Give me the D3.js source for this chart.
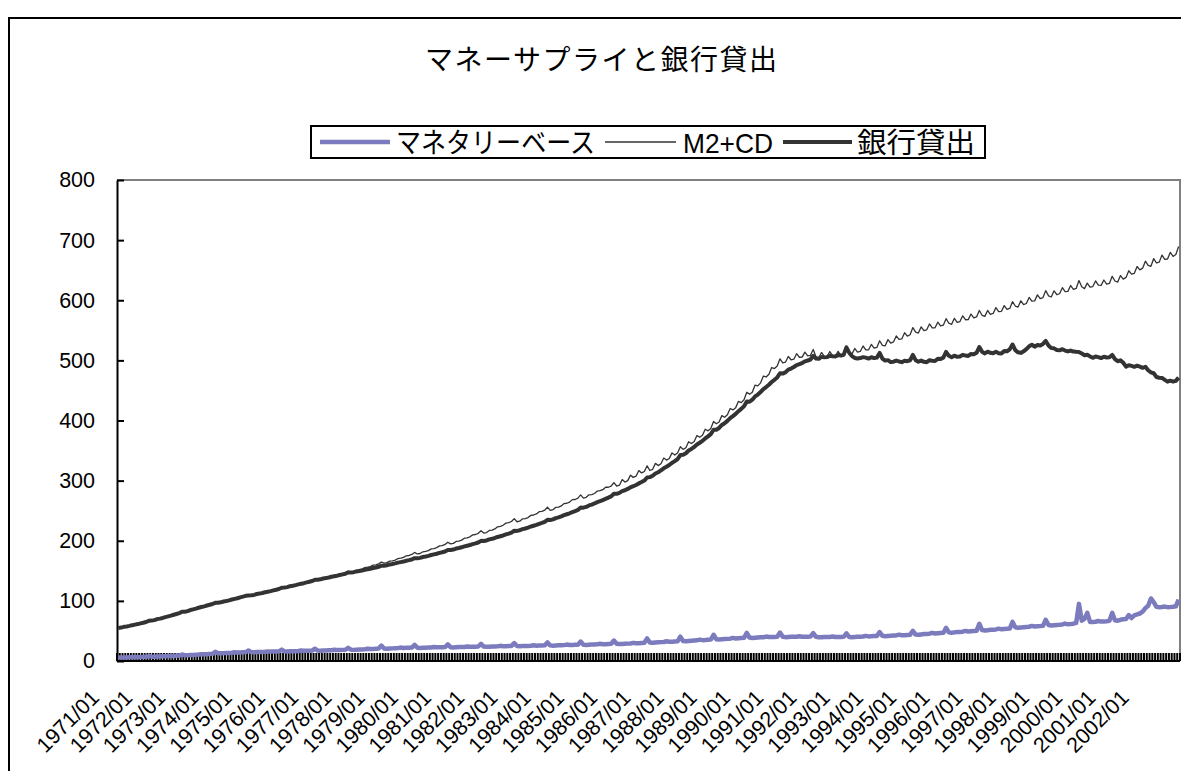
<!DOCTYPE html>
<html>
<head>
<meta charset="utf-8">
<script src="https://cdn.jsdelivr.net/npm/d3@7"></script>
<style>
  html, body { margin: 0; padding: 0; background: #fff; }
  svg { display: block; }
  text { font-family: "Liberation Sans", "Noto Sans CJK JP", sans-serif; fill: #000; }
</style>
</head>
<body>
<svg id="chart" width="1181" height="771"></svg>
<script>
// Monthly series, 1971/01 - 2002/12 (one row per year, Jan..Dec)
const yearStart = 1971;
const yearCount = 32;

const seriesNames = ["マネタリーベース", "M2+CD", "銀行貸出"];
const yTicks = [0, 100, 200, 300, 400, 500, 600, 700, 800];

const monetaryBase = [
  6.0, 5.8, 5.9, 6.0, 6.1, 6.2, 6.5, 6.4, 6.5, 6.7, 6.9, 8.2,
  7.2, 7.1, 7.3, 7.5, 7.7, 7.9, 8.3, 8.2, 8.4, 8.7, 9.0, 10.8,
  9.6, 9.5, 9.8, 10.1, 10.4, 10.7, 11.3, 11.1, 11.4, 11.7, 12.0, 15.2,
  13.0, 12.8, 13.1, 13.3, 13.5, 13.8, 14.4, 14.1, 14.3, 14.5, 14.7, 17.4,
  14.8, 14.5, 14.8, 15.0, 15.1, 15.3, 15.9, 15.6, 15.7, 15.9, 16.1, 19.0,
  16.1, 15.8, 16.1, 16.3, 16.4, 16.6, 17.3, 16.9, 17.0, 17.2, 17.4, 20.5,
  17.4, 17.1, 17.4, 17.6, 17.7, 17.9, 18.6, 18.2, 18.3, 18.5, 18.7, 21.9,
  18.8, 18.5, 18.8, 19.1, 19.3, 19.6, 20.4, 19.9, 20.1, 20.4, 20.7, 25.6,
  20.8, 20.4, 20.7, 21.0, 21.2, 21.5, 22.3, 21.8, 22.0, 22.2, 22.4, 26.8,
  22.2, 21.8, 22.0, 22.2, 22.3, 22.5, 23.2, 22.7, 22.8, 23.0, 23.2, 27.5,
  23.0, 22.6, 22.9, 23.1, 23.2, 23.4, 24.2, 23.6, 23.7, 23.9, 24.1, 28.6,
  24.0, 23.6, 23.9, 24.1, 24.2, 24.4, 25.2, 24.6, 24.7, 24.9, 25.1, 29.8,
  25.0, 24.5, 24.8, 25.0, 25.1, 25.3, 26.1, 25.5, 25.6, 25.8, 26.0, 30.9,
  26.0, 25.5, 25.8, 26.0, 26.2, 26.4, 27.3, 26.6, 26.7, 26.9, 27.1, 32.4,
  27.2, 26.7, 27.0, 27.3, 27.5, 27.7, 28.6, 27.9, 28.0, 28.2, 28.5, 34.0,
  28.6, 28.1, 28.4, 28.7, 28.9, 29.2, 30.2, 29.4, 29.6, 29.9, 30.3, 37.5,
  30.8, 30.3, 30.7, 31.1, 31.4, 31.7, 32.8, 32.0, 32.2, 32.5, 32.9, 40.4,
  33.4, 32.9, 33.3, 33.7, 34.0, 34.4, 35.6, 34.7, 34.9, 35.3, 35.7, 43.6,
  36.2, 35.6, 36.0, 36.5, 36.8, 37.2, 38.4, 37.5, 37.8, 38.2, 38.6, 46.8,
  39.0, 38.4, 38.8, 39.2, 39.4, 39.6, 40.6, 39.8, 39.9, 40.1, 40.3, 47.2,
  40.4, 39.7, 40.0, 40.2, 40.2, 40.3, 41.2, 40.4, 40.3, 40.4, 40.6, 46.4,
  40.2, 39.5, 39.7, 39.9, 39.8, 39.9, 40.8, 39.9, 39.9, 40.0, 40.2, 46.0,
  40.0, 39.5, 39.9, 40.3, 40.4, 40.7, 41.8, 40.9, 41.1, 41.4, 41.7, 48.0,
  41.9, 41.3, 41.7, 42.1, 42.3, 42.6, 43.8, 42.8, 43.0, 43.3, 43.6, 50.2,
  44.0, 43.5, 44.2, 44.8, 45.1, 45.5, 46.8, 45.8, 46.1, 46.5, 46.9, 55.0,
  47.6, 47.0, 47.6, 48.1, 48.4, 48.8, 50.1, 49.1, 49.4, 49.8, 50.2, 62.0,
  51.4, 50.8, 51.3, 51.8, 52.1, 52.5, 53.8, 52.8, 53.1, 53.5, 54.0, 65.0,
  56.0, 55.3, 55.8, 56.3, 56.6, 57.0, 58.4, 57.3, 57.6, 58.0, 58.5, 68.5,
  59.8, 59.0, 59.5, 60.0, 60.3, 60.8, 62.2, 61.0, 61.4, 62.0, 63.5, 95.0,
  67.0, 70.0, 80.0, 65.0, 64.8, 65.3, 66.5, 65.5, 65.8, 66.2, 66.8, 80.0,
  67.8, 67.0, 68.5, 69.5, 69.8, 76.5, 71.5, 76.0, 77.5, 79.0, 82.0, 88.0,
  92.0, 104.0, 98.0, 90.0, 89.5, 89.8, 90.5, 89.6, 89.8, 90.2, 91.0, 102.0
];

const m2cd = [
  55.4, 55.8, 57.3, 57.6, 58.6, 60.1, 60.6, 61.6, 63.1, 63.8, 65.0, 67.4,
  67.4, 68.3, 70.2, 70.7, 71.9, 73.6, 74.5, 75.6, 77.5, 78.5, 79.9, 82.5,
  82.3, 83.2, 85.4, 86.1, 87.3, 89.3, 90.0, 91.2, 93.0, 93.8, 95.1, 97.6,
  97.1, 97.9, 99.8, 100.1, 101.2, 103.1, 103.6, 104.7, 106.7, 107.3, 108.7, 109.9,
  109.5, 110.2, 112.2, 112.4, 113.5, 115.3, 115.6, 116.7, 118.4, 118.8, 120.2, 122.9,
  122.5, 123.2, 125.4, 125.5, 126.6, 128.6, 128.8, 129.9, 131.9, 132.3, 133.6, 136.3,
  135.6, 136.3, 138.4, 138.6, 139.6, 141.6, 142.0, 142.9, 145.0, 145.4, 146.6, 149.4,
  148.2, 148.9, 150.9, 151.8, 153.0, 155.2, 156.0, 157.0, 159.4, 160.0, 161.6, 164.6,
  162.8, 163.6, 166.0, 166.5, 167.8, 170.4, 171.0, 172.3, 175.0, 175.5, 177.2, 180.6,
  178.0, 178.8, 181.6, 182.2, 183.6, 186.4, 187.0, 188.5, 191.4, 192.0, 193.8, 197.6,
  194.8, 195.6, 198.8, 199.4, 201.0, 204.2, 204.9, 206.6, 209.8, 210.4, 212.4, 216.6,
  212.8, 213.6, 217.2, 217.8, 219.6, 223.2, 224.0, 225.8, 229.4, 230.0, 232.0, 236.8,
  231.6, 232.6, 236.4, 236.8, 238.6, 242.2, 242.8, 244.6, 248.4, 248.8, 250.8, 256.0,
  250.6, 251.6, 255.6, 256.0, 258.0, 261.8, 262.4, 264.4, 268.4, 268.6, 270.8, 276.2,
  271.0, 272.2, 276.4, 276.6, 278.6, 282.6, 283.2, 285.0, 289.0, 289.0, 291.0, 296.6,
  291.0, 292.4, 301.7, 297.6, 300.0, 309.1, 305.4, 307.4, 316.7, 312.8, 315.2, 324.6,
  316.8, 318.8, 328.7, 325.0, 328.0, 337.5, 334.2, 336.8, 346.1, 342.6, 345.8, 356.4,
  352.0, 354.6, 364.7, 361.8, 365.2, 375.1, 372.2, 375.4, 385.5, 382.8, 386.8, 398.4,
  394.6, 397.4, 408.1, 405.4, 409.6, 419.9, 417.6, 421.4, 431.9, 429.8, 434.6, 447.0,
  443.6, 447.0, 458.9, 457.6, 462.6, 473.9, 472.4, 477.0, 488.1, 486.4, 490.8, 502.6,
  496.0, 497.2, 506.5, 501.0, 502.0, 511.1, 505.2, 505.4, 513.7, 507.6, 508.4, 518.2,
  506.0, 504.4, 513.1, 506.6, 506.4, 514.7, 507.8, 507.0, 515.1, 508.4, 509.0, 519.8,
  512.4, 510.4, 519.9, 513.8, 514.8, 523.9, 517.6, 517.6, 526.5, 520.4, 521.6, 532.6,
  525.0, 524.2, 534.5, 528.8, 530.6, 540.7, 534.8, 535.6, 545.9, 540.4, 542.6, 554.6,
  547.0, 545.4, 555.7, 549.4, 550.8, 560.5, 554.0, 554.2, 563.5, 557.2, 558.6, 569.4,
  561.8, 560.0, 569.9, 563.4, 564.6, 574.1, 567.6, 567.8, 577.1, 570.8, 572.2, 583.0,
  575.0, 573.2, 583.1, 576.6, 578.0, 587.7, 581.2, 581.6, 591.1, 584.8, 586.4, 597.6,
  590.4, 588.6, 599.1, 592.8, 594.6, 604.7, 598.4, 599.0, 608.9, 602.6, 604.4, 616.0,
  607.4, 605.4, 615.7, 609.2, 610.8, 620.9, 614.4, 614.8, 624.5, 618.0, 619.6, 632.8,
  622.4, 619.4, 628.5, 621.8, 622.8, 632.1, 625.0, 624.8, 633.7, 626.8, 628.0, 639.8,
  632.0, 630.2, 641.1, 635.2, 638.0, 649.1, 643.4, 644.8, 656.1, 650.6, 653.4, 665.0,
  658.0, 656.4, 669.3, 662.0, 663.4, 675.1, 668.0, 668.6, 679.7, 673.0, 676.0, 689.4
];

const bankLending = [
  55.0, 55.6, 56.8, 57.5, 58.4, 59.6, 60.5, 61.4, 62.6, 63.6, 64.8, 66.8,
  67.2, 68.0, 69.6, 70.5, 71.6, 73.0, 74.2, 75.4, 76.9, 78.2, 79.6, 81.8,
  82.0, 83.0, 84.8, 85.9, 87.1, 88.6, 89.8, 90.9, 92.3, 93.5, 94.8, 96.8,
  96.9, 97.6, 99.0, 99.8, 100.9, 102.3, 103.3, 104.4, 105.9, 107.0, 108.4, 109.0,
  109.2, 109.9, 111.4, 112.1, 113.1, 114.4, 115.3, 116.2, 117.5, 118.5, 119.7, 121.8,
  122.2, 122.9, 124.4, 125.1, 126.2, 127.5, 128.4, 129.4, 130.7, 131.8, 133.0, 135.0,
  135.2, 135.8, 137.2, 137.9, 138.9, 140.1, 141.0, 141.9, 143.1, 144.1, 145.2, 147.2,
  147.2, 147.7, 149.0, 149.6, 150.6, 151.8, 152.6, 153.5, 154.7, 155.6, 156.7, 158.6,
  158.6, 159.2, 160.6, 161.3, 162.3, 163.6, 164.5, 165.4, 166.7, 167.7, 168.9, 171.0,
  170.8, 171.5, 173.0, 173.8, 174.9, 176.3, 177.3, 178.4, 179.8, 180.9, 182.2, 184.6,
  184.6, 185.4, 187.0, 187.9, 189.1, 190.6, 191.7, 192.9, 194.4, 195.6, 197.1, 199.8,
  199.6, 200.5, 202.3, 203.2, 204.6, 206.3, 207.5, 208.8, 210.5, 211.9, 213.5, 216.6,
  216.4, 217.4, 219.4, 220.4, 221.9, 223.7, 225.0, 226.4, 228.2, 229.7, 231.4, 234.8,
  234.4, 235.5, 237.7, 238.9, 240.6, 242.6, 244.1, 245.7, 247.7, 249.4, 251.3, 255.2,
  255.0, 256.3, 258.8, 260.1, 262.0, 264.2, 265.8, 267.6, 269.8, 271.7, 273.8, 278.2,
  278.0, 279.6, 282.5, 284.0, 286.2, 288.8, 290.7, 292.8, 295.4, 297.6, 300.1, 305.2,
  305.8, 308.0, 311.9, 314.0, 317.0, 320.5, 323.1, 326.0, 329.5, 332.5, 335.9, 342.6,
  343.0, 345.6, 350.0, 352.6, 356.0, 360.0, 363.0, 366.2, 370.2, 373.6, 377.4, 384.6,
  384.6, 387.6, 392.6, 395.5, 399.4, 403.9, 407.3, 411.0, 415.5, 419.3, 423.6, 431.4,
  431.2, 434.6, 440.0, 443.2, 447.4, 452.2, 455.6, 459.4, 464.0, 467.6, 471.6, 478.6,
  478.0, 480.4, 484.6, 486.4, 489.0, 492.2, 493.8, 495.6, 498.4, 499.8, 501.4, 507.6,
  503.0, 502.6, 505.8, 505.0, 505.4, 507.6, 507.0, 506.6, 508.8, 508.0, 509.2, 521.6,
  512.8, 507.2, 504.0, 503.2, 503.8, 505.4, 504.6, 503.0, 505.2, 503.8, 504.6, 512.4,
  503.0, 499.6, 500.4, 497.2, 497.8, 499.6, 498.2, 497.0, 499.4, 498.6, 500.2, 509.0,
  500.4, 497.8, 499.6, 497.6, 497.0, 500.2, 499.4, 499.0, 502.6, 502.2, 504.6, 514.0,
  507.6, 505.2, 507.8, 506.0, 506.4, 509.2, 508.0, 507.4, 510.6, 510.0, 512.6, 522.2,
  514.2, 511.6, 514.4, 512.6, 512.0, 514.4, 512.0, 511.6, 515.4, 515.2, 518.4, 526.4,
  517.0, 513.4, 512.4, 515.0, 518.6, 523.4, 526.0, 522.8, 525.6, 524.8, 527.4, 532.4,
  524.6, 520.4, 520.0, 517.2, 516.8, 518.6, 516.4, 514.8, 516.4, 514.6, 514.2, 514.0,
  511.6, 508.6, 509.4, 506.6, 504.2, 506.4, 505.4, 503.8, 506.0, 504.8, 505.2, 509.0,
  502.0, 498.6, 500.0, 496.0, 489.6, 492.0, 490.8, 489.2, 491.2, 489.6, 487.6, 489.4,
  483.6, 480.2, 478.6, 472.4, 471.2, 470.8, 467.6, 464.6, 466.2, 464.8, 466.0, 471.2
];

// Category labels "YYYY/MM"
const months = [];
for (let yr = yearStart; yr < yearStart + yearCount; yr++) {
  for (let mo = 1; mo <= 12; mo++) months.push(yr + "/" + String(mo).padStart(2, "0"));
}
const xLabels = months.filter(m => m.endsWith("/01"));

const colors = { base: "#7b7bbd", m2: "#333333", lending: "#333333" };

const svg = d3.select("#chart");
const plot = { left: 117, right: 1180, top: 180, bottom: 661 };

// Outer chart frame
svg.append("path")
  .attr("d", `M9,771 V18 H1181`)
  .attr("fill", "none").attr("stroke", "#000").attr("stroke-width", 2);

// Title
svg.append("text")
  .attr("x", 601).attr("y", 70)
  .attr("text-anchor", "middle")
  .attr("font-size", 28)
  .attr("textLength", 352).attr("lengthAdjust", "spacing")
  .text("マネーサプライと銀行貸出");

const x = d3.scaleBand().domain(months).range([plot.left, plot.right]).paddingInner(0).paddingOuter(0);
const cx = m => x(m) + x.bandwidth() / 2;
const y = d3.scaleLinear().domain([0, 800]).range([plot.bottom, plot.top]);

// Plot area top/right border
svg.append("path")
  .attr("d", `M${plot.left},${plot.top} H${plot.right} V${plot.bottom}`)
  .attr("fill", "none").attr("stroke", "#808080").attr("stroke-width", 2);

// Monthly tick marks on the category axis (inside)
const boundaries = d3.range(months.length + 1).map(i => plot.left + i * x.step());
svg.append("g")
  .selectAll("line").data(boundaries).join("line")
  .attr("x1", d => d).attr("x2", d => d)
  .attr("y1", plot.bottom).attr("y2", plot.bottom - 8)
  .attr("stroke", "#000").attr("stroke-width", 2);

// Category axis line
svg.append("line")
  .attr("x1", plot.left).attr("x2", plot.right)
  .attr("y1", plot.bottom).attr("y2", plot.bottom)
  .attr("stroke", "#000").attr("stroke-width", 2);

// Year labels
svg.append("g").selectAll("text").data(xLabels).join("text")
  .attr("transform", d => `translate(${cx(d) - 18},699) rotate(-45)`)
  .attr("text-anchor", "end")
  .attr("font-size", 21.5)
  .text(d => d);

// Value axis
const yAxis = d3.axisLeft(y).tickValues(yTicks).tickSizeInner(-7).tickSizeOuter(0).tickPadding(22);
const gy = svg.append("g").attr("transform", `translate(${plot.left},0)`).call(yAxis);
gy.select(".domain").attr("stroke", "#000").attr("stroke-width", 2);
gy.selectAll(".tick line").attr("stroke", "#000").attr("stroke-width", 2);
gy.selectAll(".tick text").attr("font-size", 21.5).attr("fill", "#000")
  .attr("font-family", "Liberation Sans, sans-serif");

// Series lines
const line = d3.line().x((d, i) => cx(months[i])).y(d => y(d));
svg.append("path").datum(monetaryBase).attr("d", line)
  .attr("fill", "none").attr("stroke", colors.base).attr("stroke-width", 4.5).attr("stroke-linejoin", "round");
svg.append("path").datum(m2cd).attr("d", line)
  .attr("fill", "none").attr("stroke", colors.m2).attr("stroke-width", 1.3).attr("stroke-linejoin", "round");
svg.append("path").datum(bankLending).attr("d", line)
  .attr("fill", "none").attr("stroke", colors.lending).attr("stroke-width", 4).attr("stroke-linejoin", "round");

// Legend
const lg = svg.append("g");
lg.append("rect").attr("x", 311).attr("y", 126).attr("width", 674).attr("height", 32)
  .attr("fill", "#fff").attr("stroke", "#000").attr("stroke-width", 2);
const legendItems = [
  { name: seriesNames[0], color: colors.base, width: 4.5, x1: 320, x2: 390, tx: 396, tl: 199 },
  { name: seriesNames[1], color: colors.m2, width: 1.3, x1: 605, x2: 676, tx: 683, tl: 90 },
  { name: seriesNames[2], color: colors.lending, width: 4, x1: 783, x2: 852, tx: 857, tl: 118 }
];
legendItems.forEach(it => {
  lg.append("line").attr("x1", it.x1).attr("x2", it.x2).attr("y1", 142).attr("y2", 142)
    .attr("stroke", it.color).attr("stroke-width", it.width);
  lg.append("text").attr("x", it.tx).attr("y", 153)
    .attr("font-size", 28)
    .attr("textLength", it.tl).attr("lengthAdjust", "spacingAndGlyphs")
    .text(it.name);
});
</script>
</body>
</html>
